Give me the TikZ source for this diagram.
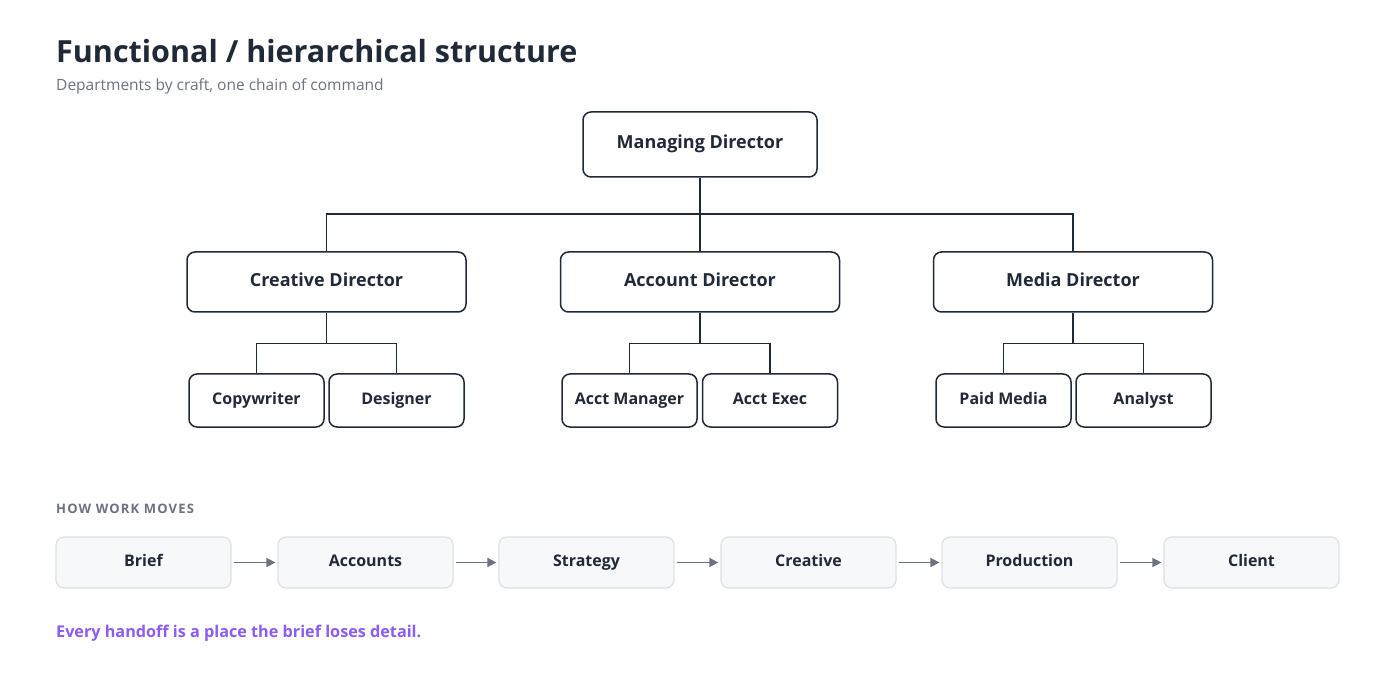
\documentclass[tikz,border=0pt]{standalone}
\usepackage{fontspec}
\setmainfont{Open Sans}
\usetikzlibrary{arrows.meta,calc}
\definecolor{ink}{HTML}{1F2937}
\definecolor{mute}{HTML}{6B7280}
\definecolor{flowfill}{HTML}{F7F8FA}
\definecolor{flowline}{HTML}{DDE0E5}
\definecolor{accent}{HTML}{8B5CF6}
\tikzset{
  orgbox/.style={draw=ink, line width=1.5pt, rounded corners=8pt, fill=white, text=ink, font=\fontsize{18}{20}\selectfont\bfseries, inner sep=0pt, text height=13pt, text depth=4pt},
  big/.style={orgbox, minimum width=279pt, minimum height=60pt},
  small/.style={orgbox, minimum width=135pt, minimum height=53pt, font=\fontsize{16}{18}\selectfont\bfseries, text height=11.5pt, text depth=3.5pt},
  flow/.style={draw=flowline, line width=1.2pt, rounded corners=8pt, fill=flowfill, text=ink, minimum width=175pt, minimum height=51pt, font=\fontsize{16}{18}\selectfont\bfseries, inner sep=0pt, text height=11.5pt, text depth=3.5pt},
  wire/.style={draw=ink, line width=1.5pt},
  flowarrow/.style={draw=mute, line width=1.5pt, -{Triangle[length=9pt,width=9pt]}},
  lbl/.style={anchor=base west, inner sep=0pt}
}
\begin{document}
\begin{tikzpicture}[x=1pt,y=-1pt]
\useasboundingbox[fill=white] (0,0) rectangle (1400,700);
\node[lbl, text=ink, font=\fontsize{30.5}{33}\selectfont\bfseries] (title) at (56,63) {Functional / hierarchical structure};
\node[lbl, text=mute, font=\fontsize{15.5}{18}\selectfont] (sub) at (56,91) {Departments by craft, one chain of command};

\node[orgbox, minimum width=234pt, minimum height=65pt] (md) at (700,144.5) {Managing Director};
\node[big] (cd) at (326.5,282) {Creative Director};
\node[big] (ad) at (700,282) {Account Director};
\node[big] (med) at (1073,282) {Media Director};

\node[small] (cw) at (256.5,400.5) {Copywriter};
\node[small] (de) at (396.5,400.5) {Designer};
\node[small] (am) at (629.5,400.5) {Acct Manager};
\node[small] (ae) at (770,400.5) {Acct Exec};
\node[small] (pm) at (1003.5,400.5) {Paid Media};
\node[small] (an) at (1143.5,400.5) {Analyst};

\draw[wire] (md.south) -- (ad.north);
\draw[wire] (cd.north) |- (700,214) -| (med.north);
\foreach \p/\a/\b in {cd/cw/de, ad/am/ae, med/pm/an}{
  \draw[wire] (\p.south) -- ++(0,31);
  \draw[wire] (\a.north) |- ($(\p.south)+(0,31)$) -| (\b.north);
}

\node[lbl, text=mute, font=\fontsize{13}{15}\selectfont\bfseries\addfontfeature{LetterSpace=9}] (hw) at (56,513) {HOW WORK MOVES};
\node[flow] (f1) at (143.5,562.5) {Brief};
\node[flow] (f2) at (365.5,562.5) {Accounts};
\node[flow] (f3) at (586.5,562.5) {Strategy};
\node[flow] (f4) at (808.5,562.5) {Creative};
\node[flow] (f5) at (1029.5,562.5) {Production};
\node[flow] (f6) at (1251.5,562.5) {Client};
\foreach \a/\b in {f1/f2,f2/f3,f3/f4,f4/f5,f5/f6}
  \draw[flowarrow] ([xshift=2pt]\a.east) -- ([xshift=-2pt]\b.west);

\node[lbl, text=accent, font=\fontsize{16.2}{18}\selectfont\bfseries] (note) at (56,637) {Every handoff is a place the brief loses detail.};
\end{tikzpicture}
\end{document}
